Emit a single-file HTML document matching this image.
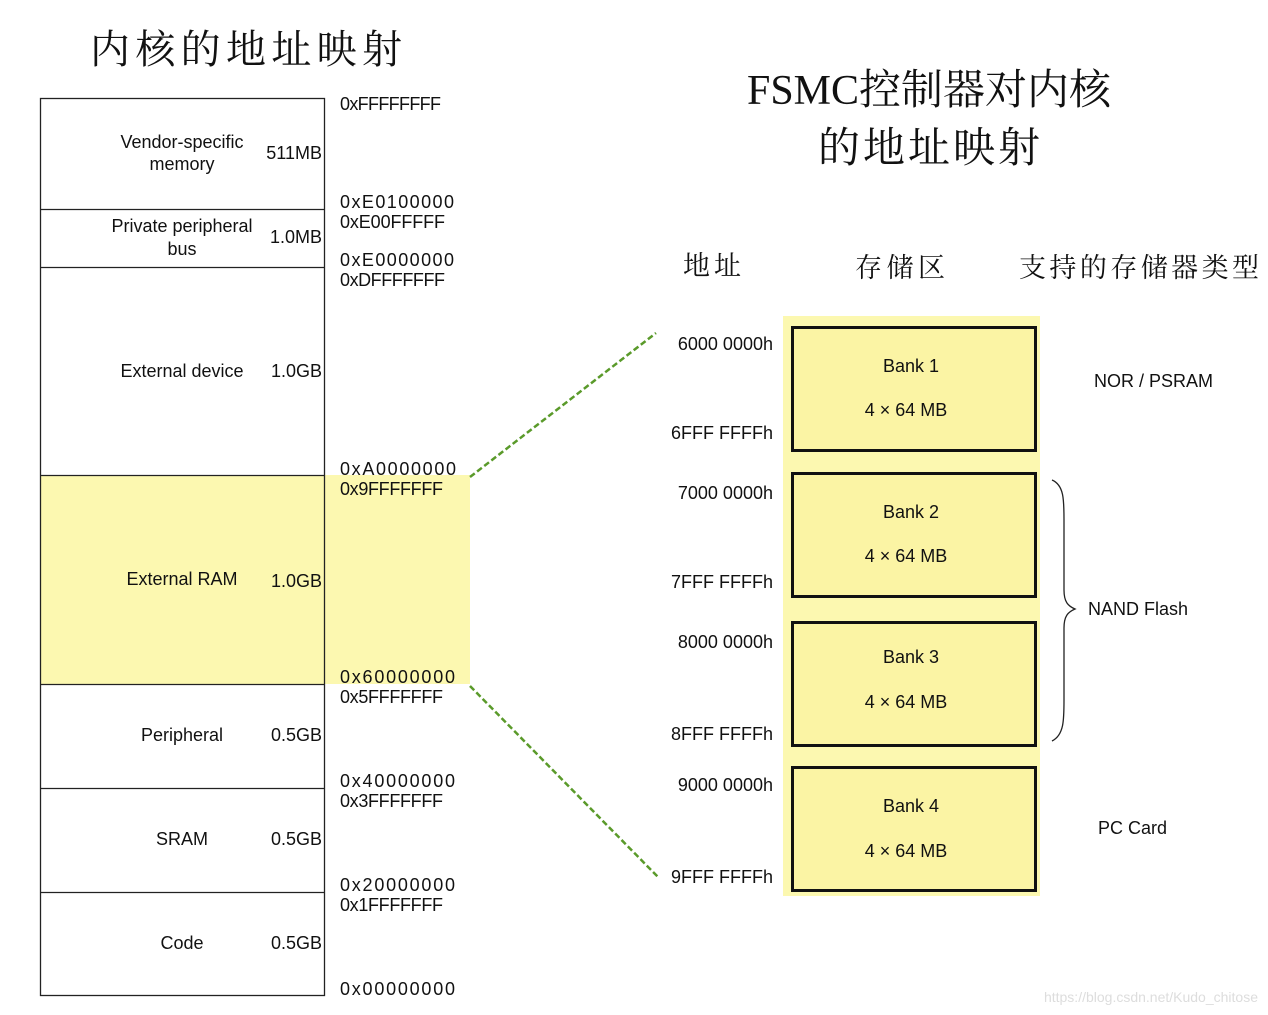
<!DOCTYPE html>
<html><head><meta charset="utf-8"><style>
html,body{margin:0;padding:0;background:#fff;}
svg{display:block;}
.t{font-family:"Liberation Sans",sans-serif;fill:#111;}
.c{font-family:"Liberation Serif","Noto Serif CJK SC",serif;fill:#111;}
</style></head><body>
<svg width="1268" height="1015" viewBox="0 0 1268 1015" xmlns="http://www.w3.org/2000/svg">
<text class="c" x="90" y="63" font-size="40" textLength="312">内核的地址映射</text>
<text class="c" x="747" y="104" font-size="42" textLength="364">FSMC控制器对内核</text>
<text class="c" x="818" y="162" font-size="42" textLength="222">的地址映射</text>
<text class="c" x="683" y="275" font-size="27" textLength="58">地址</text>
<text class="c" x="855" y="277" font-size="27" textLength="90">存储区</text>
<text class="c" x="1019" y="277" font-size="27" textLength="240">支持的存储器类型</text>

<rect x="40" y="475" width="430" height="209" fill="#fcf8b0"/>
<rect x="40.5" y="98.5" width="284" height="897" fill="none" stroke="#222" stroke-width="1.3"/>
<g stroke="#222" stroke-width="1.3">
<line x1="40" y1="209.5" x2="325" y2="209.5"/>
<line x1="40" y1="267.5" x2="325" y2="267.5"/>
<line x1="40" y1="475.5" x2="325" y2="475.5"/>
<line x1="40" y1="684.5" x2="325" y2="684.5"/>
<line x1="40" y1="788.5" x2="325" y2="788.5"/>
<line x1="40" y1="892.5" x2="325" y2="892.5"/>
</g>
<g class="t" font-size="18" text-anchor="middle">
<text x="182" y="148">Vendor-specific</text>
<text x="182" y="170">memory</text>
<text x="182" y="232">Private peripheral</text>
<text x="182" y="255">bus</text>
<text x="182" y="377">External device</text>
<text x="182" y="585">External RAM</text>
<text x="182" y="741">Peripheral</text>
<text x="182" y="845">SRAM</text>
<text x="182" y="949">Code</text>
</g>
<g class="t" font-size="18" text-anchor="end">
<text x="322" y="159">511MB</text>
<text x="322" y="243">1.0MB</text>
<text x="322" y="377">1.0GB</text>
<text x="322" y="587">1.0GB</text>
<text x="322" y="741">0.5GB</text>
<text x="322" y="845">0.5GB</text>
<text x="322" y="949">0.5GB</text>
</g>
<g class="t" font-size="18">
<text x="340" y="110" textLength="101" lengthAdjust="spacing">0xFFFFFFFF</text>
<text x="340" y="208" textLength="114">0xE0100000</text>
<text x="340" y="228" textLength="105">0xE00FFFFF</text>
<text x="340" y="266" textLength="114">0xE0000000</text>
<text x="340" y="286" textLength="105">0xDFFFFFFF</text>
<text x="340" y="475" textLength="116">0xA0000000</text>
<text x="340" y="495" textLength="103">0x9FFFFFFF</text>
<text x="340" y="683" textLength="115">0x60000000</text>
<text x="340" y="703" textLength="103">0x5FFFFFFF</text>
<text x="340" y="787" textLength="115">0x40000000</text>
<text x="340" y="807" textLength="103">0x3FFFFFFF</text>
<text x="340" y="891" textLength="115">0x20000000</text>
<text x="340" y="911" textLength="103">0x1FFFFFFF</text>
<text x="340" y="995" textLength="115">0x00000000</text>
</g>

<g stroke="#5a9a2a" stroke-width="2.5" stroke-dasharray="6,3" fill="none">
<line x1="470" y1="477" x2="656" y2="333"/>
<line x1="470" y1="686" x2="658" y2="877"/>
</g>

<rect x="783" y="316" width="257" height="580" fill="#fcf8b0"/>
<g fill="#fbf4a4" stroke="#111" stroke-width="3">
<rect x="792.5" y="327.5" width="243" height="123"/>
<rect x="792.5" y="473.5" width="243" height="123"/>
<rect x="792.5" y="622.5" width="243" height="123"/>
<rect x="792.5" y="767.5" width="243" height="123"/>
</g>
<g class="t" font-size="18" text-anchor="middle">
<text x="911" y="372">Bank 1</text><text x="906" y="416">4 × 64 MB</text>
<text x="911" y="518">Bank 2</text><text x="906" y="562">4 × 64 MB</text>
<text x="911" y="663">Bank 3</text><text x="906" y="708">4 × 64 MB</text>
<text x="911" y="812">Bank 4</text><text x="906" y="857">4 × 64 MB</text>
</g>
<g class="t" font-size="18" text-anchor="end">
<text x="773" y="350">6000 0000h</text>
<text x="773" y="439">6FFF FFFFh</text>
<text x="773" y="499">7000 0000h</text>
<text x="773" y="588">7FFF FFFFh</text>
<text x="773" y="648">8000 0000h</text>
<text x="773" y="740">8FFF FFFFh</text>
<text x="773" y="791">9000 0000h</text>
<text x="773" y="883">9FFF FFFFh</text>
</g>
<g class="t" font-size="18">
<text x="1094" y="387">NOR / PSRAM</text>
<text x="1088" y="615">NAND Flash</text>
<text x="1098" y="834">PC Card</text>
</g>
<path d="M1052,480 C1064,485 1064,500 1064,520 L1064,590 C1064,602 1068,606 1075,609 C1068,612 1064,616 1064,628 L1064,700 C1064,720 1064,735 1052,741" fill="none" stroke="#222" stroke-width="1.3"/>
<text x="1258" y="1002" font-family="Liberation Sans,sans-serif" font-size="14" fill="#ddd" text-anchor="end">https://blog.csdn.net/Kudo_chitose</text>
</svg>
</body></html>
